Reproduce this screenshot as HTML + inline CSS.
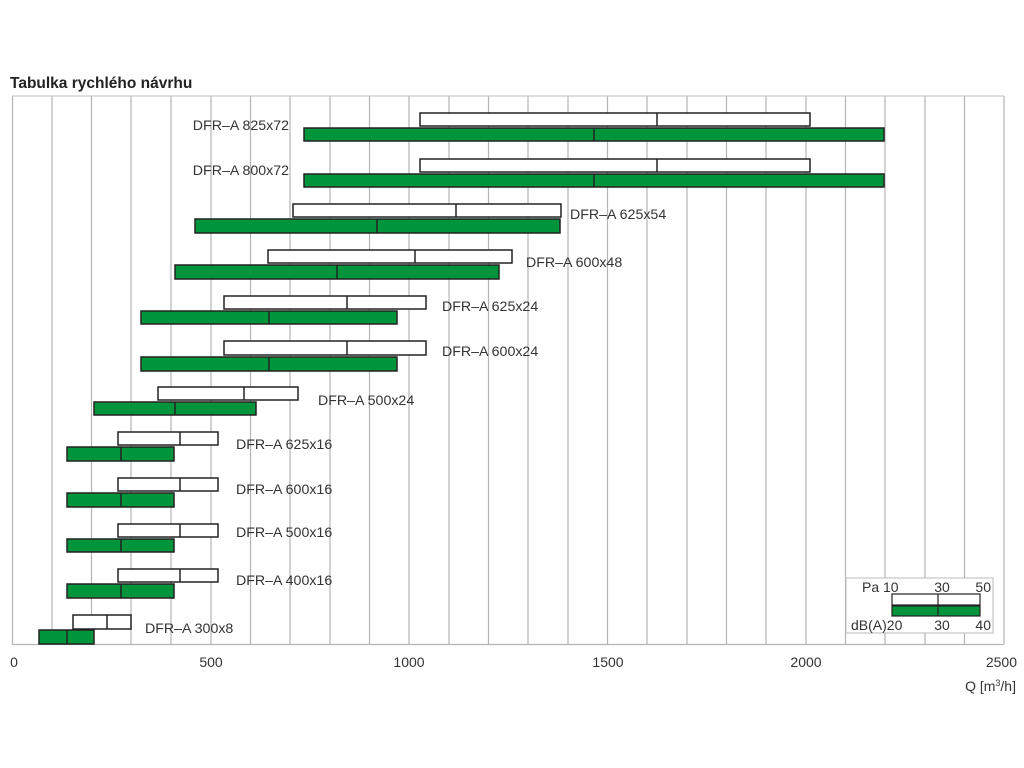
<!DOCTYPE html>
<html><head><meta charset="utf-8"><style>
body{margin:0;background:#fff;}
svg{display:block;font-family:"Liberation Sans",sans-serif;}
</style></head><body>
<svg width="1024" height="768" viewBox="0 0 1024 768">
<text x="10" y="88" font-size="15.5" font-weight="bold" fill="#222">Tabulka rychlého návrhu</text>
<g stroke="#b4b4b4" stroke-width="1.2">
<line x1="12" y1="96" x2="1004" y2="96" stroke="#ccc"/>
<line x1="12.5" y1="96" x2="12.5" y2="644"/>
<line x1="52" y1="96" x2="52" y2="644"/><line x1="91.5" y1="96" x2="91.5" y2="644"/><line x1="131" y1="96" x2="131" y2="644"/><line x1="171" y1="96" x2="171" y2="644"/><line x1="211" y1="96" x2="211" y2="644"/><line x1="250.5" y1="96" x2="250.5" y2="644"/><line x1="290" y1="96" x2="290" y2="644"/><line x1="330" y1="96" x2="330" y2="644"/><line x1="369.5" y1="96" x2="369.5" y2="644"/><line x1="409" y1="96" x2="409" y2="644"/><line x1="449" y1="96" x2="449" y2="644"/><line x1="488.5" y1="96" x2="488.5" y2="644"/><line x1="528" y1="96" x2="528" y2="644"/><line x1="568" y1="96" x2="568" y2="644"/><line x1="607.5" y1="96" x2="607.5" y2="644"/><line x1="647" y1="96" x2="647" y2="644"/><line x1="687" y1="96" x2="687" y2="644"/><line x1="726.5" y1="96" x2="726.5" y2="644"/><line x1="766" y1="96" x2="766" y2="644"/><line x1="806" y1="96" x2="806" y2="644"/><line x1="845.5" y1="96" x2="845.5" y2="644"/><line x1="885" y1="96" x2="885" y2="644"/><line x1="925" y1="96" x2="925" y2="644"/><line x1="964.5" y1="96" x2="964.5" y2="644"/><line x1="1004" y1="96" x2="1004" y2="644"/>
<line x1="12" y1="644.5" x2="1004" y2="644.5"/>
</g>
<g stroke="#222" stroke-width="1.5">
<rect x="420" y="113" width="390" height="13" fill="#fff"/><line x1="657" y1="113" x2="657" y2="126"/>
<rect x="304" y="128" width="580" height="13" fill="#00943d"/><line x1="594" y1="128" x2="594" y2="141"/>
<rect x="420" y="159" width="390" height="13" fill="#fff"/><line x1="657" y1="159" x2="657" y2="172"/>
<rect x="304" y="174" width="580" height="13" fill="#00943d"/><line x1="594" y1="174" x2="594" y2="187"/>
<rect x="293" y="204" width="268" height="13" fill="#fff"/><line x1="456" y1="204" x2="456" y2="217"/>
<rect x="195" y="219" width="365" height="14" fill="#00943d"/><line x1="377" y1="219" x2="377" y2="233"/>
<rect x="268" y="250" width="244" height="13" fill="#fff"/><line x1="415" y1="250" x2="415" y2="263"/>
<rect x="175" y="265" width="324" height="14" fill="#00943d"/><line x1="337" y1="265" x2="337" y2="279"/>
<rect x="224" y="296" width="202" height="13" fill="#fff"/><line x1="347" y1="296" x2="347" y2="309"/>
<rect x="141" y="311" width="256" height="13" fill="#00943d"/><line x1="269" y1="311" x2="269" y2="324"/>
<rect x="224" y="341" width="202" height="14" fill="#fff"/><line x1="347" y1="341" x2="347" y2="355"/>
<rect x="141" y="357" width="256" height="14" fill="#00943d"/><line x1="269" y1="357" x2="269" y2="371"/>
<rect x="158" y="387" width="140" height="13" fill="#fff"/><line x1="244" y1="387" x2="244" y2="400"/>
<rect x="94" y="402" width="162" height="13" fill="#00943d"/><line x1="175" y1="402" x2="175" y2="415"/>
<rect x="118" y="432" width="100" height="13" fill="#fff"/><line x1="180" y1="432" x2="180" y2="445"/>
<rect x="67" y="447" width="107" height="14" fill="#00943d"/><line x1="121" y1="447" x2="121" y2="461"/>
<rect x="118" y="478" width="100" height="13" fill="#fff"/><line x1="180" y1="478" x2="180" y2="491"/>
<rect x="67" y="493" width="107" height="14" fill="#00943d"/><line x1="121" y1="493" x2="121" y2="507"/>
<rect x="118" y="524" width="100" height="13" fill="#fff"/><line x1="180" y1="524" x2="180" y2="537"/>
<rect x="67" y="539" width="107" height="13" fill="#00943d"/><line x1="121" y1="539" x2="121" y2="552"/>
<rect x="118" y="569" width="100" height="13" fill="#fff"/><line x1="180" y1="569" x2="180" y2="582"/>
<rect x="67" y="584" width="107" height="14" fill="#00943d"/><line x1="121" y1="584" x2="121" y2="598"/>
<rect x="73" y="615" width="58" height="14" fill="#fff"/><line x1="107" y1="615" x2="107" y2="629"/>
<rect x="39" y="630" width="55" height="14" fill="#00943d"/><line x1="67" y1="630" x2="67" y2="644"/>
</g>
<g font-size="14.2" fill="#333">
<text x="289" y="130" text-anchor="end">DFR–A 825x72</text>
<text x="289" y="175" text-anchor="end">DFR–A 800x72</text>
<text x="570" y="219">DFR–A 625x54</text>
<text x="526" y="267">DFR–A 600x48</text>
<text x="442" y="311">DFR–A 625x24</text>
<text x="442" y="356">DFR–A 600x24</text>
<text x="318" y="405">DFR–A 500x24</text>
<text x="236" y="449">DFR–A 625x16</text>
<text x="236" y="494">DFR–A 600x16</text>
<text x="236" y="537">DFR–A 500x16</text>
<text x="236" y="585">DFR–A 400x16</text>
<text x="145" y="633">DFR–A 300x8</text>
</g>
<rect x="846" y="578" width="147" height="55" fill="#fff" stroke="#bbb" stroke-width="1"/>
<g stroke="#222" stroke-width="1.2">
<rect x="892" y="594" width="88" height="11" fill="#fff"/><line x1="938" y1="594" x2="938" y2="605"/>
<rect x="892" y="606" width="88" height="10" fill="#00943d"/><line x1="938" y1="606" x2="938" y2="616"/>
</g>
<g font-size="14" fill="#333">
<text x="862" y="592">Pa 10</text><text x="942" y="592" text-anchor="middle">30</text><text x="991" y="592" text-anchor="end">50</text>
<text x="851" y="630">dB(A)20</text><text x="942" y="630" text-anchor="middle">30</text><text x="991" y="630" text-anchor="end">40</text>
</g>
<g font-size="14" fill="#333" text-anchor="middle">
<text x="14" y="667">0</text><text x="211" y="667">500</text><text x="409" y="667">1000</text><text x="608" y="667">1500</text><text x="806" y="667">2000</text><text x="1017" y="667" text-anchor="end">2500</text>
</g>
<text x="1016" y="691" font-size="14" fill="#333" text-anchor="end">Q [m<tspan font-size="9" dy="-5">3</tspan><tspan dy="5">/h]</tspan></text>
</svg>
</body></html>
